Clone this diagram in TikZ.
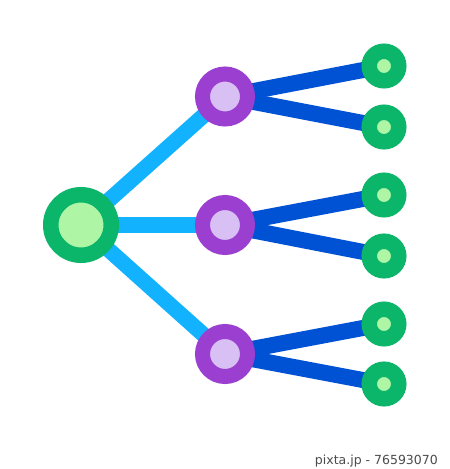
\documentclass[tikz,border=0pt]{standalone}
\usepackage{fontspec}
\newfontfamily\wmfont{DejaVu Sans}
\definecolor{rootout}{HTML}{0BB56A}
\definecolor{rootin}{HTML}{AEF5A6}
\definecolor{midout}{HTML}{9A3FD0}
\definecolor{midin}{HTML}{D8C0F4}
\definecolor{lightline}{HTML}{12B2FF}
\definecolor{darkline}{HTML}{0052D4}
\tikzset{
  rootnode/.style={circle, fill=rootin, draw=rootout, line width=15.5pt, minimum size=60.5pt, inner sep=0pt},
  midnode/.style={circle, fill=midin, draw=midout, line width=15pt, minimum size=45pt, inner sep=0pt},
  leafnode/.style={circle, fill=rootin, draw=rootout, line width=15.5pt, minimum size=29.5pt, inner sep=0pt},
  lightconn/.style={draw=lightline, line width=15.5pt},
  darkconn/.style={draw=darkline, line width=16pt},
}
\begin{document}
\begin{tikzpicture}[x=1pt, y=-1pt]
\useasboundingbox[fill=white] (0,0) rectangle (450,469);
\coordinate (r) at (81,225);
\coordinate (m1) at (225,96.5);
\coordinate (m2) at (225,225);
\coordinate (m3) at (225,354);
\coordinate (l1) at (384,66);
\coordinate (l2) at (384,127);
\coordinate (l3) at (384,195);
\coordinate (l4) at (384,256);
\coordinate (l5) at (384,324);
\coordinate (l6) at (384,384);
\draw[lightconn] (r) -- (m1);
\draw[lightconn] (r) -- (m2);
\draw[lightconn] (r) -- (m3);
\draw[darkconn] (m1) -- (l1);
\draw[darkconn] (m1) -- (l2);
\draw[darkconn] (m2) -- (l3);
\draw[darkconn] (m2) -- (l4);
\draw[darkconn] (m3) -- (l5);
\draw[darkconn] (m3) -- (l6);
\node[rootnode] (root) at (r) {};
\node[midnode] (mid1) at (m1) {};
\node[midnode] (mid2) at (m2) {};
\node[midnode] (mid3) at (m3) {};
\node[leafnode] (leaf1) at (l1) {};
\node[leafnode] (leaf2) at (l2) {};
\node[leafnode] (leaf3) at (l3) {};
\node[leafnode] (leaf4) at (l4) {};
\node[leafnode] (leaf5) at (l5) {};
\node[leafnode] (leaf6) at (l6) {};
\node[anchor=east, text=black!70, font=\wmfont\fontsize{12.5}{14}\selectfont, inner sep=0pt] (wm) at (438,461) {pixta.jp - 76593070};
\end{tikzpicture}
\end{document}
